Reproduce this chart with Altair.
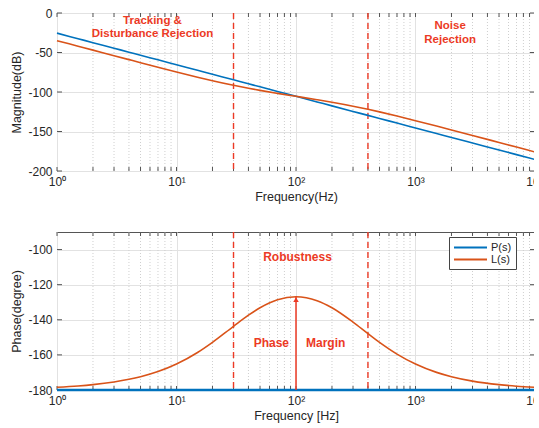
import altair as alt
import pandas as pd

# Frequency samples (Hz) and Bode responses of the plant P(s) and loop L(s)
freq = [1, 1.5, 2, 3, 4, 5, 7, 10, 15, 20, 30, 40, 50, 70, 100, 150, 200,
        300, 400, 500, 700, 1000, 1500, 2000, 3000, 5000, 7000, 10000]
p_mag = [-25.5, -32.54, -37.54, -44.58, -49.58, -53.46, -59.30, -65.5,
         -72.54, -77.54, -84.58, -89.58, -93.46, -99.30, -105.5, -112.54,
         -117.54, -124.58, -129.58, -133.46, -139.30, -145.5, -152.54,
         -157.54, -164.58, -173.46, -179.30, -185.5]
l_mag = [-35.0, -42.03, -47.02, -54.05, -59.02, -62.86, -68.62, -74.63,
         -81.25, -85.72, -91.55, -95.28, -97.96, -101.70, -105.46, -109.74,
         -112.96, -117.95, -121.90, -125.19, -130.44, -136.28, -143.12,
         -148.05, -155.03, -163.89, -169.73, -175.92]
p_phase = [-180.0, -180.0, -180.0, -180.0, -180.0, -180.0, -180.0, -180.0,
           -180.0, -180.0, -180.0, -180.0, -180.0, -180.0, -180.0, -180.0,
           -180.0, -180.0, -180.0, -180.0, -180.0, -180.0, -180.0, -180.0,
           -180.0, -180.0, -180.0, -180.0]
l_phase = [-178.47, -177.71, -176.95, -175.43, -173.92, -172.42, -169.48,
           -165.21, -158.63, -152.85, -143.72, -137.40, -133.15, -128.59,
           -126.86, -129.10, -133.15, -141.34, -147.89, -152.85, -159.53,
           -165.21, -169.96, -172.42, -174.93, -176.95, -177.82, -178.47]

series_names = ["P(s)", "L(s)"]
series_colors = ["#0072BD", "#D95319"]

# Frequencies separating the design regions
band_edges = [30, 400]

major_freq = [1, 10, 100, 1000, 10000]
minor_freq = [m * 10 ** k for k in range(4) for m in range(2, 10)]
mag_ticks = [-200, -150, -100, -50, 0]
phase_ticks = [-180, -160, -140, -120, -100]

top_notes = ["Tracking &", "Disturbance Rejection", "Noise", "Rejection"]
top_note_f = [6.3, 6.3, 1950, 1950]
top_note_y = [-10, -27, -17, -34]

RED = "#EC3A25"
FONT = "Liberation Sans"
FRAME = "#555555"
W, H = 478, 158

mag_df = pd.DataFrame({
    "f": freq * 2,
    "v": p_mag + l_mag,
    "s": ["P(s)"] * len(freq) + ["L(s)"] * len(freq),
})
phase_df = pd.DataFrame({
    "f": freq * 2,
    "v": p_phase + l_phase,
    "s": ["P(s)"] * len(freq) + ["L(s)"] * len(freq),
})
p_phase_df = pd.DataFrame({"f": freq, "v": p_phase})

x_scale = alt.Scale(type="log", domain=[1, 10000], nice=False)
label_expr = "'10' + ['\u2070','\u00b9','\u00b2','\u00b3','\u2074'][round(log(datum.value)/LN10)]"


def x_axis(title):
    return alt.Axis(values=major_freq, labelExpr=label_expr, title=title,
                    grid=True, gridColor="#e2e2e2", ticks=False, domain=False,
                    labelPadding=5, titlePadding=3, labelFontSize=12,
                    labelFlush=False)


def y_axis(title, ticks):
    return alt.Axis(values=ticks, title=title, grid=True, gridColor="#e2e2e2",
                    ticks=False, domain=False, labelPadding=5, titlePadding=4,
                    labelFontSize=12, labelExpr="'' + datum.value")


def panel(xtitle, ytitle, yticks, ydomain):
    """Shared encodings and frame decorations for one Bode panel."""
    ys = alt.Scale(domain=ydomain, nice=False)
    X = lambda field="f": alt.X(f"{field}:Q", scale=x_scale, axis=x_axis(xtitle))
    Y = lambda field="v": alt.Y(f"{field}:Q", scale=ys, axis=y_axis(ytitle, yticks))
    minor = alt.Chart(pd.DataFrame({"f": minor_freq})).mark_rule(
        color="#cfcfcf", strokeDash=[1, 2], strokeWidth=1
    ).encode(x=X())
    xt = pd.DataFrame({"f": major_freq + minor_freq})
    xb = alt.Chart(xt).mark_rule(color=FRAME, strokeWidth=1).encode(
        x=X(), y=alt.value(H), y2=alt.value(H - 4))
    xtop = alt.Chart(xt).mark_rule(color=FRAME, strokeWidth=1).encode(
        x=X(), y=alt.value(0), y2=alt.value(4))
    yt = pd.DataFrame({"v": yticks})
    yl = alt.Chart(yt).mark_rule(color=FRAME, strokeWidth=1).encode(
        y=Y(), x=alt.value(0), x2=alt.value(5))
    yr = alt.Chart(yt).mark_rule(color=FRAME, strokeWidth=1).encode(
        y=Y(), x=alt.value(W - 5), x2=alt.value(W))
    edges = alt.Chart(pd.DataFrame({"f": band_edges})).mark_rule(
        color=RED, strokeDash=[6, 4], strokeWidth=1.4
    ).encode(x=X())
    return X, Y, [minor, xb, xtop, yl, yr, edges]


# ---- magnitude panel ----
Xm, Ym, mag_frame = panel("Frequency(Hz)", "Magnitude(dB)", mag_ticks, [-200, 0])
mag_lines = alt.Chart(mag_df).mark_line(strokeWidth=1.6, interpolate="monotone").encode(
    x=Xm(), y=Ym(),
    color=alt.Color("s:N", scale=alt.Scale(domain=series_names, range=series_colors),
                    legend=None),
)
mag_notes = alt.Chart(pd.DataFrame({"f": top_note_f, "v": top_note_y, "t": top_notes})).mark_text(
    color=RED, fontWeight="bold", fontSize=11.5, font=FONT
).encode(x=Xm(), y=Ym(), text="t:N")

top = alt.layer(*mag_frame, mag_lines, mag_notes).properties(width=W, height=H)

# ---- phase panel ----
Xp, Yp, ph_frame = panel("Frequency [Hz]", "Phase(degree)", phase_ticks, [-180, -90])
ph_lines = alt.Chart(phase_df).mark_line(strokeWidth=1.6, interpolate="monotone").encode(
    x=Xp(), y=Yp(),
    color=alt.Color("s:N", scale=alt.Scale(domain=series_names, range=series_colors),
                    legend=alt.Legend(orient="none", legendX=392, legendY=5, title=None,
                                      symbolType="M-1,0H5", symbolSize=121,
                                      symbolStrokeWidth=2, labelFontSize=11,
                                      labelFont=FONT, labelColor="#262626",
                                      labelOffset=25,
                                      labelExpr="datum.label + '          '",
                                      strokeColor="#444", fillColor="white",
                                      padding=4, rowPadding=0)),
)
# the plant phase sits on the lower frame edge; draw it a bit heavier
p_phase_line = alt.Chart(p_phase_df).mark_line(strokeWidth=2.6, color=series_colors[0]).encode(
    x=Xp(), y=Yp())

peak_idx = l_phase.index(max(l_phase))
peak_f = freq[peak_idx]
peak_v = l_phase[peak_idx]
arrow_df = pd.DataFrame({"f": [peak_f], "v": [-180.0], "v1": [peak_v]})
arrow_line = alt.Chart(arrow_df).mark_rule(color=RED, strokeWidth=1.5).encode(
    x=Xp(), y=Yp(), y2="v1:Q")
arrow_head = alt.Chart(arrow_df).mark_point(
    shape="triangle-up", filled=True, color=RED, size=30, opacity=1, yOffset=3
).encode(x=Xp(), y=Yp("v1"))

note_style = dict(color=RED, fontWeight="bold", fontSize=12, font=FONT)
robust = alt.Chart(pd.DataFrame({"f": [103], "v": [-104], "t": ["Robustness"]})).mark_text(
    **note_style).encode(x=Xp(), y=Yp(), text="t:N")
phase_lbl = alt.Chart(pd.DataFrame({"f": [peak_f], "v": [-153], "t": ["Phase"]})).mark_text(
    align="right", dx=-7, **note_style).encode(x=Xp(), y=Yp(), text="t:N")
margin_lbl = alt.Chart(pd.DataFrame({"f": [peak_f], "v": [-153], "t": ["Margin"]})).mark_text(
    align="left", dx=10, **note_style).encode(x=Xp(), y=Yp(), text="t:N")

bottom = alt.layer(*ph_frame, ph_lines, p_phase_line, arrow_line, arrow_head,
                   robust, phase_lbl, margin_lbl).properties(width=W, height=H)

chart = alt.vconcat(top, bottom, spacing=27).resolve_scale(
    color="independent"
).properties(
    padding={"left": 10, "top": 6, "right": -11, "bottom": 8}, background="white"
).configure_view(
    stroke=FRAME, strokeWidth=1
).configure_axis(
    labelFont=FONT, titleFont=FONT, labelColor="#262626", titleColor="#262626",
    titleFontSize=12.5, titleFontWeight="normal"
)

chart.save("out.html", embed_options={"renderer": "svg", "actions": False})
